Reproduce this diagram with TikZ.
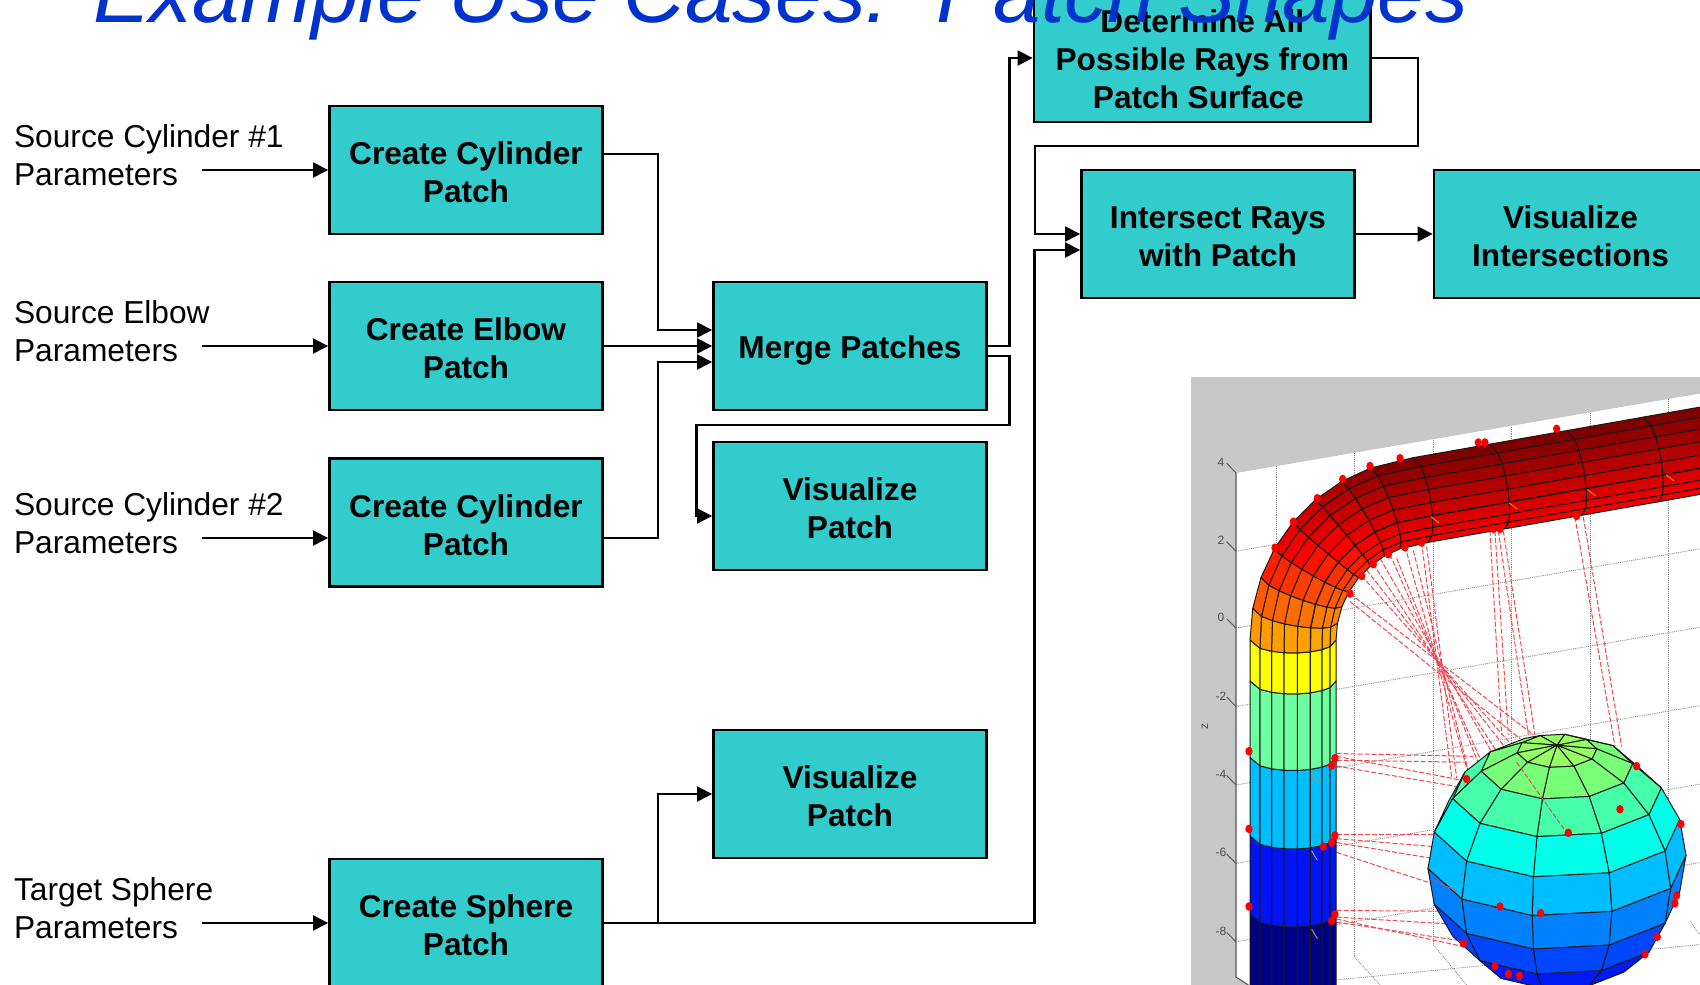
\documentclass[tikz,border=0pt]{standalone}
\usepackage{fontspec}
\setmainfont{Liberation Sans}
\usepackage{tikz}
\usetikzlibrary{positioning,arrows.meta}
\definecolor{patchfill}{RGB}{51,204,204}
\definecolor{titleblue}{RGB}{0,51,204}
\definecolor{wallgray}{RGB}{200,200,200}
\definecolor{rayred}{RGB}{240,70,80}
\def\tubeS{0,.07,.163,.30,.45,.605,.75,.884,1}
\def\patchtop{\rule{0pt}{28pt}}
% point on the tube: angle in the bend, distance along it, place across it
\def\tubexy#1#2#3{%
\pgfmathsetmacro\tuberad{97+86*#3}%
\pgfmathsetmacro\tubesag{(13-23*#1/80)*sqrt(max(0,1-(2*#3-1)*(2*#3-1)))}%
\pgfmathsetmacro\tx{1433-\tuberad*cos(#1)+(#2-\tubesag)*sin(#1)}%
\pgfmathsetmacro\ty{\tuberad*sin(#1)+(#2-\tubesag)*cos(#1)-640}}
\def\heatcolor#1#2{%
\pgfmathsetmacro\heat{(97+86*#2)/183*sin(#1)/sin(80)}%
\pgfmathtruncatemacro\heatr{\heat<.5 ? 255 : 255-(\heat-.5)*270}%
\pgfmathtruncatemacro\heatg{\heat<.5 ? 185*(1-\heat/.5) : 0}%
\definecolor{facet}{RGB}{\heatr,\heatg,0}}
% one ring of the tube, #5 sets the colour of a facet
\def\tubeband#1#2#3#4#5{%
\foreach \sb [remember=\sb as \sa (initially 0)] in \tubeS {%
\ifdim\sb pt>0pt
\tubexy{#1}{#2}{\sa}\let\xa\tx\let\ya\ty
\tubexy{#1}{#2}{\sb}\let\xb\tx\let\yb\ty
\tubexy{#3}{#4}{\sb}\let\xc\tx\let\yc\ty
\tubexy{#3}{#4}{\sa}\let\xd\tx\let\yd\ty
#5
\filldraw[tubeedge, fill=facet] (\xa pt,\ya pt) -- (\xb pt,\yb pt) -- (\xc pt,\yc pt) -- (\xd pt,\yd pt) -- cycle;
\ifdim\sb pt=.3pt \draw[tubeedge, line width=1.8pt] (\xb pt,\yb pt) -- (\xc pt,\yc pt); \fi
\fi}}
% corner of the sphere
\def\ballxy#1#2{%
\pgfmathsetmacro\tx{1557+130*cos(#1)*sin(#2)}%
\pgfmathsetmacro\ty{129*sin(#1)*cos(25)-129*cos(#1)*cos(#2)*sin(25)-862}}

\begin{document}
\begin{tikzpicture}[>={Triangle[width=15pt,length=15pt]}, line width=2.2pt,
patch/.style={draw, fill=patchfill, line width=2.8pt, minimum width=273pt, minimum height=128pt, inner sep=0pt, align=center, font=\fontsize{31.6}{38}\selectfont\bfseries},
source/.style={anchor=west, inner sep=0pt, align=left, font=\fontsize{31.7}{38}\selectfont},
tubeedge/.style={draw=black!90, line width=1pt, line join=round},
grid/.style={densely dotted, draw=black!45, line width=.9pt},
ray/.style={dashed, draw=rayred, line width=1pt, dash pattern=on 5pt off 2pt},
ticklabel/.style={inner sep=0pt, text=black!70, font=\fontsize{12}{12}\selectfont}]
\useasboundingbox (0pt,0pt) rectangle (1700pt,-985pt);
\clip (0pt,0pt) rectangle (1700pt,-985pt);

\draw (13pt,-155pt)node[source](srccyla){Source Cylinder \#1\\Parameters};
\draw (13pt,-331pt)node[source](srcelbow){Source Elbow\\Parameters};
\draw (13pt,-523pt)node[source](srccylb){Source Cylinder \#2\\Parameters};
\draw (13pt,-908pt)node[source](srcsphere){Target Sphere\\Parameters};
\draw (202pt,-170pt)coordinate(incyla);
\draw (202pt,-346pt)coordinate(inelbow);
\draw (202pt,-538pt)coordinate(incylb);
\draw (202pt,-923pt)coordinate(insphere);

\draw (466pt,-170pt)node[patch](cyla){\patchtop Create Cylinder\\Patch};
\draw (466pt,-346pt)node[patch](elbow){\patchtop Create Elbow\\Patch};
\draw (466pt,-522.5pt)node[patch](cylb){\patchtop Create Cylinder\\Patch};
\draw (466pt,-923pt)node[patch](sphere){\patchtop Create Sphere\\Patch};
\draw (850pt,-346pt)node[patch](merge){\rule{0pt}{31.6pt}Merge Patches};
\draw (850pt,-506pt)node[patch](vispatcha){\patchtop Visualize\\Patch};
\draw (850pt,-794pt)node[patch](vispatchb){\patchtop Visualize\\Patch};
\draw (1202.3pt,-58pt)node[patch, minimum width=336.6pt](rays){\rule{0pt}{26pt}Determine All\\Possible Rays from\\Patch Surface\hspace*{8pt}};
\draw (1218pt,-234pt)node[patch](intersect){\patchtop Intersect Rays\\with Patch};
\draw (1570.5pt,-234pt)node[patch](visinter){\patchtop Visualize\\Intersections};

\path[->] (incyla) edge (cyla);
\path[->] (inelbow) edge (elbow);
\draw[->] (incylb) -- ([yshift=-15.5pt]cylb.west);
\path[->] (insphere) edge (sphere);
\draw[->] ([yshift=16pt]cyla.east) -- ++(54pt,0pt) |- ([yshift=16pt]merge.west);
\path[->] (elbow) edge (merge);
\draw[->] ([yshift=-15.5pt]cylb.east) -- ++(54pt,0pt) |- ([yshift=-16pt]merge.west);
\draw[->] (merge.east) -- ++(21.5pt,0pt) |- (rays.west);
\draw[->] ([yshift=-10pt]merge.east) -- ++(21.5pt,0pt) -- ++(0pt,-69pt) -- ++(-313pt,0pt) |- ([yshift=-10pt]vispatcha.west);
\draw[->] (rays.east) -- ++(46pt,0pt) -- ++(0pt,-88pt) -- ++(-383.1pt,0pt) |- (intersect.west);
\path[->] (intersect) edge (visinter);
\draw[->] (sphere.east) -- ++(430.5pt,0pt) |- ([yshift=-16pt]intersect.west);
\draw[->] ([xshift=54pt]sphere.east) |- (vispatchb.west);

% plot, back walls
\fill[wallgray] (1191pt,-377pt) -- (1700pt,-377pt) -- (1700pt,-393.5pt) -- (1236pt,-473pt) -- (1236pt,-978pt) -- (1247pt,-985pt) -- (1191pt,-985pt) -- cycle;
\begin{scope}[shift={(1180pt,-370pt)}, x=.3333pt, y=-.3922pt]
\foreach \v in {462,658,858,1058,1258,1458} {
\draw[grid] (168,\v) -- (1560,\v-202);
}
\foreach \u/\v/\w in {290/245/1520,522/212/1495,760/178/1465,995/145/1440,1230/110/1405,1465/75/1370} {
\draw[grid] (\u,\v) -- (\u,\w);
}
\draw[grid] (470,1555) -- (1560,1465);
\draw[grid] (522,1495) -- (600,1568);
\draw[grid] (760,1465) -- (860,1568);
\draw[grid] (1530,1405) -- (1560,1440);
\draw[draw=black!65, line width=1.2pt] (168,262) -- (168,1548) -- (205,1568);
\foreach \v/\lab in {262/4,462/2,658/0,858/-2,1058/-4,1258/-6,1458/-8} {
\draw[draw=black!65, line width=1pt] (168,\v) -- (140,\v-24);
\draw (123,\v-27)node[ticklabel](tick\lab){\lab};
}
\draw (75,910)node[ticklabel, rotate=90](zlabel){z};

% rays
\foreach \ua/\va/\ub/\vb in {470/985/840/1045,470/978/880/985,470/995/860/1000,470/1010/830/1062,
470/1185/765/1185,470/1195/760/1215,470/1205/755/1245,470/1230/830/1330,470/1378/800/1380,470/1395/800/1412,470/1408/840/1455,470/1400/850/1470,
510/570/1060/930,545/525/989/950,580/495/960/985,630/470/905/1000,675/450/865/1030,725/440/815/1040,
510/590/1020/940,560/510/1010/1000,600/480/966/1020,650/480/908/1030,700/460/870/1040,740/450/830/1040,
930/410/965/930,945/410/985/930,955/410/1045/930,970/410/1065/930,1185/375/1305/960,1210/375/1325/960} {
\draw[ray] (\ua,\va) -- (\ub,\vb);
}
\end{scope}

% tube
\tubeband{0}{-360}{0}{-274}{\definecolor{facet}{RGB}{0,0,135}}
\tubeband{0}{-274}{0}{-196}{\definecolor{facet}{RGB}{0,20,245}}
\tubeband{0}{-196}{0}{-117.5}{\definecolor{facet}{RGB}{0,190,255}}
\tubeband{0}{-117.5}{0}{-41}{\definecolor{facet}{RGB}{110,255,160}}
\tubeband{0}{-41}{0}{0}{\definecolor{facet}{RGB}{255,255,0}}
\foreach \pa/\la/\pb/\lb in {0/0/10/0,10/0/20/0,20/0/30/0,30/0/40/0,40/0/50/0,50/0/60/0,60/0/70/0,70/0/80/12,80/12/80/90,80/90/80/168,80/168/80/246,80/246/80/330} {
\tubeband{\pa}{\la}{\pb}{\lb}{\pgfmathsetmacro\midp{(\pa+\pb)/2}\pgfmathsetmacro\mids{(\sa+\sb)/2}\heatcolor{\midp}{\mids}}
}

% sphere, only the facets that face the viewer
\foreach \lata/\latb/\rr/\gg/\bb in {90/72/150/255/100,72/54/120/255/120,54/36/70/255/170,36/18/0/255/232,18/0/0/190/255,0/-18/0/130/255,-18/-36/0/70/255,-36/-54/0/25/245,-54/-72/0/0/235} {
\definecolor{facet}{RGB}{\rr,\gg,\bb}
\foreach \loa in {-11,25,...,313} {
\pgfmathsetmacro\lob{\loa+36}
\pgfmathsetmacro\latm{(\lata+\latb)/2}
\pgfmathsetmacro\lom{\loa+18}
\pgfmathsetmacro\facing{cos(\latm)*cos(\lom)*cos(25)+sin(\latm)*sin(25)}
\ifdim\facing pt>0pt
\ballxy{\lata}{\loa}\let\xa\tx\let\ya\ty
\ballxy{\lata}{\lob}\let\xb\tx\let\yb\ty
\ballxy{\latb}{\lob}\let\xc\tx\let\yc\ty
\ballxy{\latb}{\loa}\let\xd\tx\let\yd\ty
\filldraw[tubeedge, fill=facet] (\xa pt,\ya pt) -- (\xb pt,\yb pt) -- (\xc pt,\yc pt) -- (\xd pt,\yd pt) -- cycle;
\fi
}
}

% hit points
\begin{scope}[shift={(1180pt,-370pt)}, x=.3333pt, y=-.3922pt]
\draw[ray] (1010,1000) -- (1160,1180);
\draw[ray] (760,1300) -- (830,1330);
\foreach \u/\v in {285/453,340/387,412/327,488/278,570/245,660/225,895/185,915/185,1130/150,
510/570,545/525,580/495,625/470,675/452,725/440,940/405,960/405,1190/372,
207/972,207/1170,207/1368,465/990,455/1008,465/1187,455/1205,430/1215,465/1388,455/1405,
860/1043,1320/1120,1165/1180,1503/1158,1370/1010,960/1368,1082/1385,1490/1340,1485/1360,1432/1445,850/1462,945/1520,985/1540,1018/1545,1395/1490} {
\fill[red] (\u,\v) circle[radius=11];
}
\foreach \u/\v in {765/382,1000/347,1235/313,1470/275} {
\draw[draw=orange, line width=1pt] (\u-12,\v-8) -- (\u+12,\v+8);
}
\foreach \v in {1040,1238,1438} {
\draw[draw=black!40!yellow, line width=1pt] (395,\v-12) -- (412,\v+12);
}
\end{scope}

\draw (92pt,-23pt)node[anchor=base west, inner sep=0pt, text=titleblue, font=\fontsize{85.3}{85}\selectfont\itshape](title){Example Use Cases:\ \ Patch Shapes};
\end{tikzpicture}
\end{document}
